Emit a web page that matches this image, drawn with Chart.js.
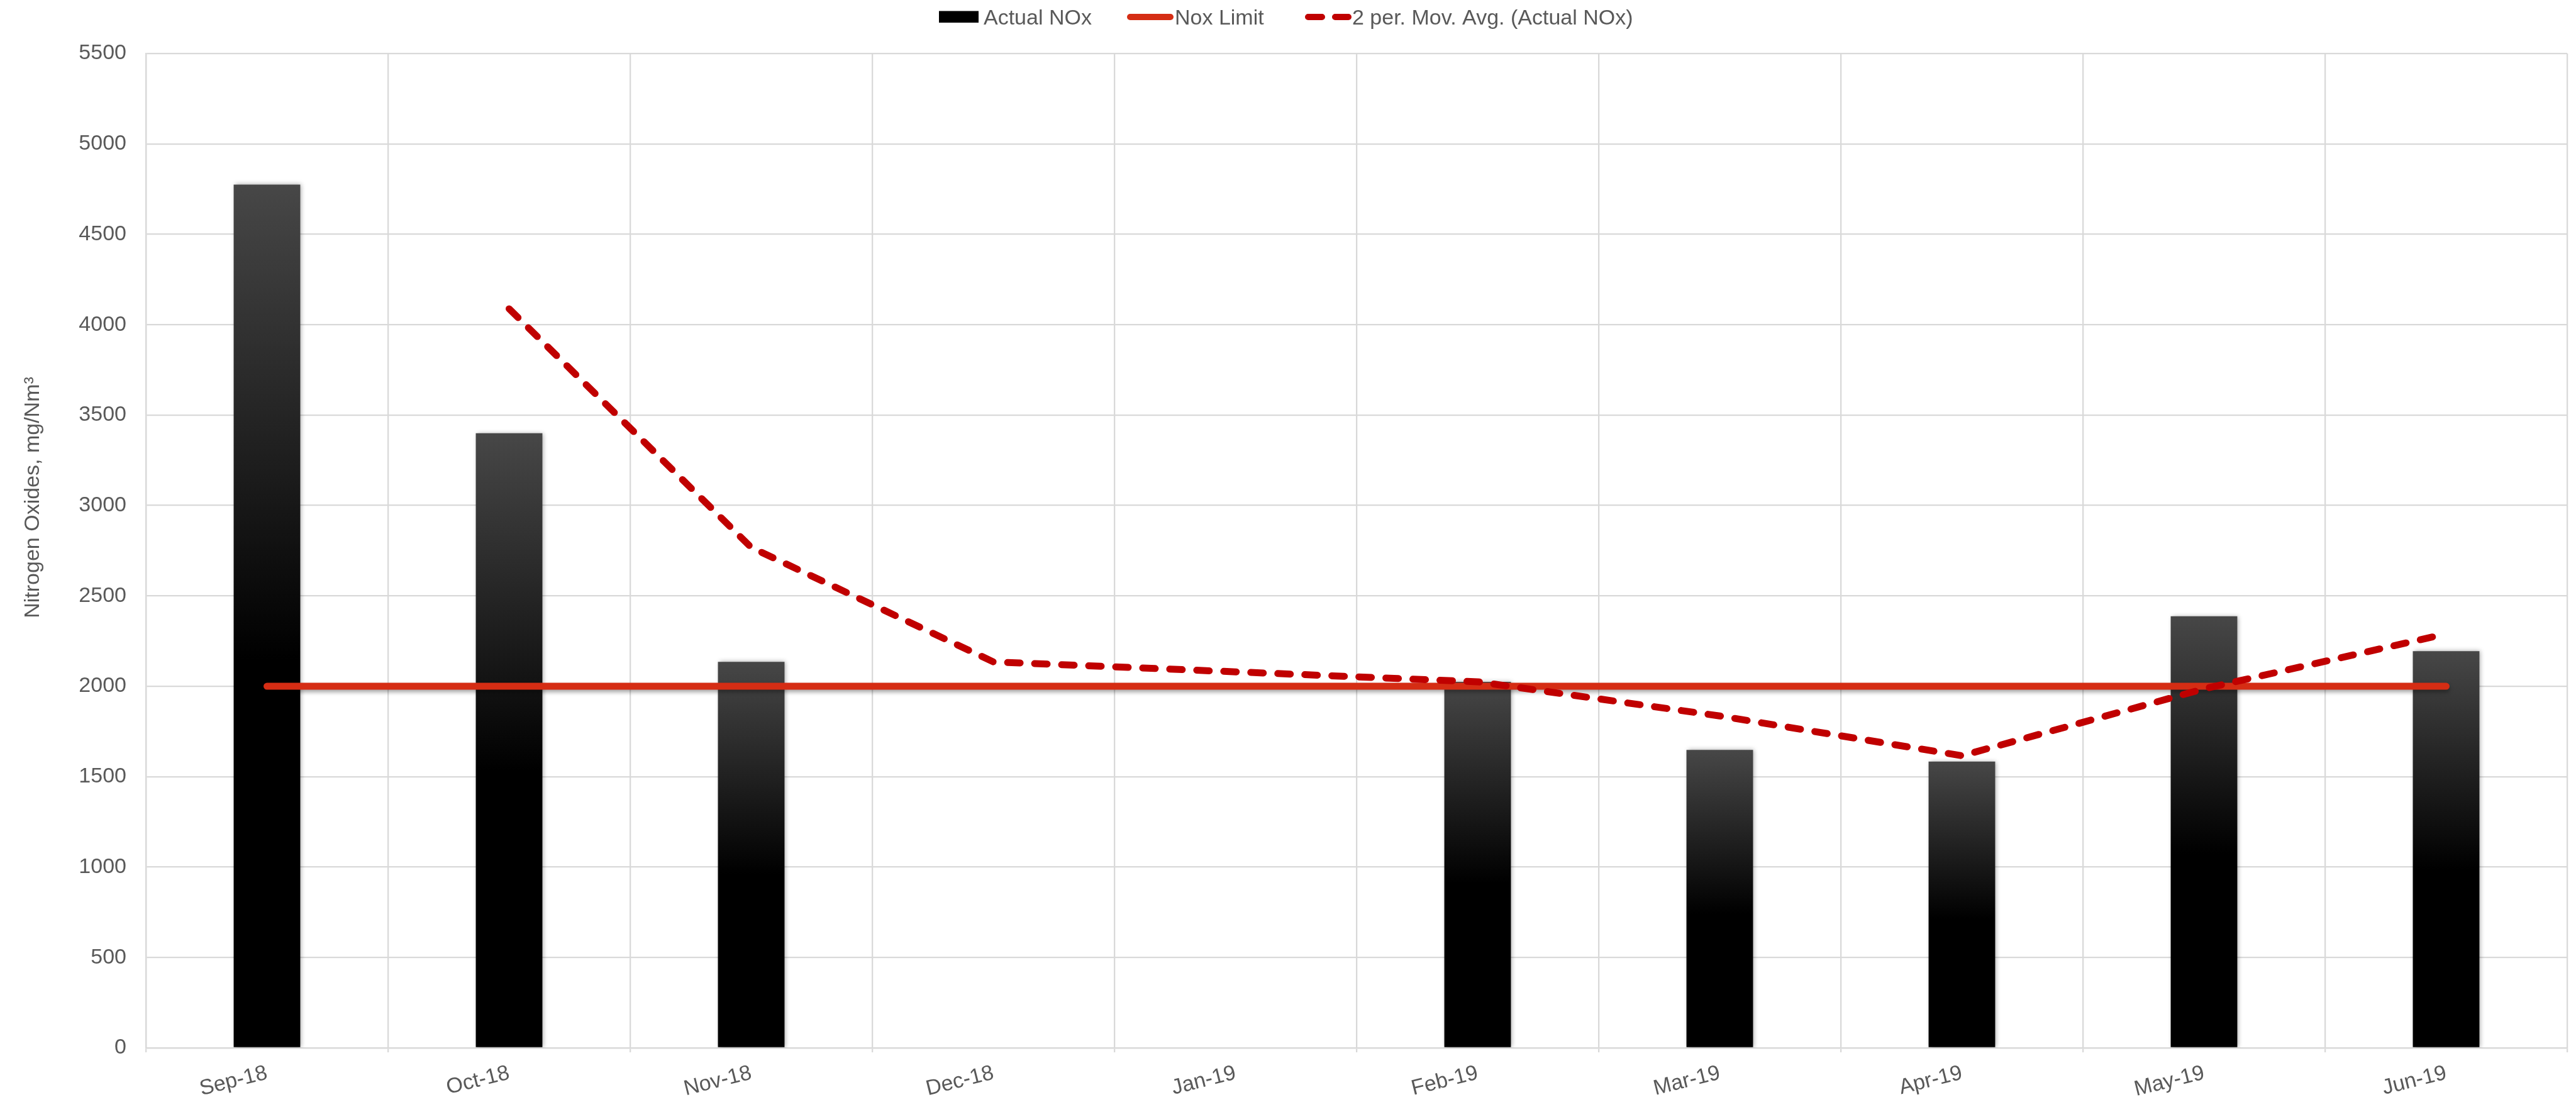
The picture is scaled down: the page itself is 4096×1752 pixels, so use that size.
<!DOCTYPE html>
<html lang="en">
<head>
    <meta charset="UTF-8">
    <title>Nitrogen Oxides</title>
    <script src="https://cdn.jsdelivr.net/npm/chart.js"></script>
    <style>
        html, body { margin: 0; padding: 0; background: #fff; }
        #wrap { width: 4096px; height: 1752px; }
    </style>
</head>
<body>
<div id="wrap"><canvas id="noxChart" width="4096" height="1752"></canvas></div>
<script>
    // Data
    const months = ['Sep-18', 'Oct-18', 'Nov-18', 'Dec-18', 'Jan-19', 'Feb-19', 'Mar-19', 'Apr-19', 'May-19', 'Jun-19'];
    const actualNox = [4775, 3400, 2135, null, null, 2025, 1648, 1584, 2387, 2194];
    const noxLimit = [2000, 2000, 2000, 2000, 2000, 2000, 2000, 2000, 2000, 2000];
    const movingAvg = [null, 4088, 2768, 2135, null, 2025, 1836, 1616, 1986, 2290];
    const yTicks = [0, 500, 1000, 1500, 2000, 2500, 3000, 3500, 4000, 4500, 5000, 5500];

    const FONT = "'Liberation Sans', Arial, sans-serif";
    const TEXT = '#595959';
    const GRID = '#d9d9d9';

    Chart.defaults.font.family = FONT;

    // Bars: grey at the top fading to black about half way down
    function barGradient(ctx) {
        const chart = ctx.chart;
        const y = chart.scales.y;
        if (!y || ctx.type !== 'data' || ctx.raw == null) return '#000';
        const top = y.getPixelForValue(ctx.raw);
        const base = y.getPixelForValue(0);
        if (!isFinite(top) || !isFinite(base) || top === base) return '#000';
        const g = chart.ctx.createLinearGradient(0, top, 0, base);
        g.addColorStop(0, '#474747');
        g.addColorStop(0.55, '#000000');
        g.addColorStop(1, '#000000');
        return g;
    }

    // Soft shadows under bars and the limit line
    const shadowPlugin = {
        id: 'shadows',
        beforeDatasetDraw(chart, args) {
            const s = chart.data.datasets[args.index].shadow;
            if (!s) return;
            const c = chart.ctx;
            c.save();
            c.shadowColor = s.color;
            c.shadowBlur = s.blur;
            c.shadowOffsetX = s.x;
            c.shadowOffsetY = s.y;
        },
        afterDatasetDraw(chart, args) {
            if (chart.data.datasets[args.index].shadow) chart.ctx.restore();
        }
    };

    // Legend on top and rotated y title
    const legendItems = [
        { x: 1493, w: 63, textX: 1564 },
        { x: 1792, w: 74, textX: 1868 },
        { x: 2075, w: 74, textX: 2150 }
    ];
    const legendY = 27;

    const decorPlugin = {
        id: 'decor',
        afterDraw(chart) {
            const c = chart.ctx;
            c.save();
            chart.data.datasets.forEach((ds, i) => {
                const it = legendItems[i];
                if (ds.type === 'line') {
                    c.strokeStyle = ds.borderColor;
                    c.lineWidth = 10;
                    c.lineCap = 'round';
                    c.setLineDash(ds.borderDash ? [22, 21] : []);
                    c.beginPath();
                    c.moveTo(it.x + 5, legendY);
                    c.lineTo(it.x + it.w - 5, legendY);
                    c.stroke();
                    c.setLineDash([]);
                } else {
                    c.fillStyle = '#000';
                    c.fillRect(it.x, legendY - 9.5, it.w, 18.5);
                }
                c.fillStyle = TEXT;
                c.font = '34px ' + FONT;
                c.textAlign = 'left';
                c.textBaseline = 'alphabetic';
                c.fillText(ds.label, it.textX, 39);
            });

            c.translate(62, 791);
            c.rotate(-Math.PI / 2);
            c.fillStyle = TEXT;
            c.font = '34px ' + FONT;
            c.textAlign = 'center';
            c.textBaseline = 'alphabetic';
            c.fillText('Nitrogen Oxides, mg/Nm³', 0, 0);
            c.restore();
        }
    };

    const ctx = document.getElementById('noxChart').getContext('2d');
    const noxChart = new Chart(ctx, {
        type: 'bar',
        data: {
            labels: months,
            datasets: [
                {
                    label: 'Actual NOx',
                    data: actualNox,
                    backgroundColor: barGradient,
                    borderWidth: 0,
                    categoryPercentage: 1,
                    barPercentage: 0.275,
                    order: 3,
                    shadow: { color: 'rgba(0,0,0,0.35)', blur: 7, x: 2, y: 0 }
                },
                {
                    type: 'line',
                    label: 'Nox Limit',
                    data: noxLimit,
                    borderColor: '#D52D14',
                    backgroundColor: '#D52D14',
                    borderWidth: 11,
                    borderCapStyle: 'round',
                    pointRadius: 0,
                    fill: false,
                    tension: 0,
                    order: 2,
                    shadow: { color: 'rgba(0,0,0,0.35)', blur: 6, x: 0, y: 4 }
                },
                {
                    type: 'line',
                    label: '2 per. Mov. Avg. (Actual NOx)',
                    data: movingAvg,
                    borderColor: '#C00000',
                    backgroundColor: '#C00000',
                    borderWidth: 11,
                    borderDash: [20, 23],
                    borderCapStyle: 'round',
                    borderJoinStyle: 'round',
                    pointRadius: 0,
                    fill: false,
                    tension: 0,
                    spanGaps: true,
                    order: 1
                }
            ]
        },
        options: {
            responsive: false,
            animation: false,
            devicePixelRatio: 1,
            layout: { padding: { top: 85, right: 14, bottom: 0, left: 0 } },
            plugins: {
                legend: { display: false },
                tooltip: { enabled: false }
            },
            scales: {
                x: {
                    offset: true,
                    grid: { color: GRID, lineWidth: 2.3, offset: true, drawTicks: true, tickLength: 7 },
                    border: { color: GRID, width: 2.3 },
                    ticks: { color: TEXT, font: { size: 34 }, minRotation: 14, maxRotation: 14, padding: 13, autoSkip: false },
                    afterFit: s => { s.height = 86; }
                },
                y: {
                    min: 0,
                    max: 5500,
                    afterBuildTicks: s => { s.ticks = yTicks.map(v => ({ value: v })); },
                    grid: { color: GRID, lineWidth: 2.3, drawTicks: false },
                    border: { color: GRID, width: 2.3 },
                    ticks: { color: TEXT, font: { size: 34 }, padding: 31, callback: v => String(v) },
                    afterFit: s => { s.width = 232; }
                }
            }
        },
        plugins: [shadowPlugin, decorPlugin]
    });
</script>
</body>
</html>
